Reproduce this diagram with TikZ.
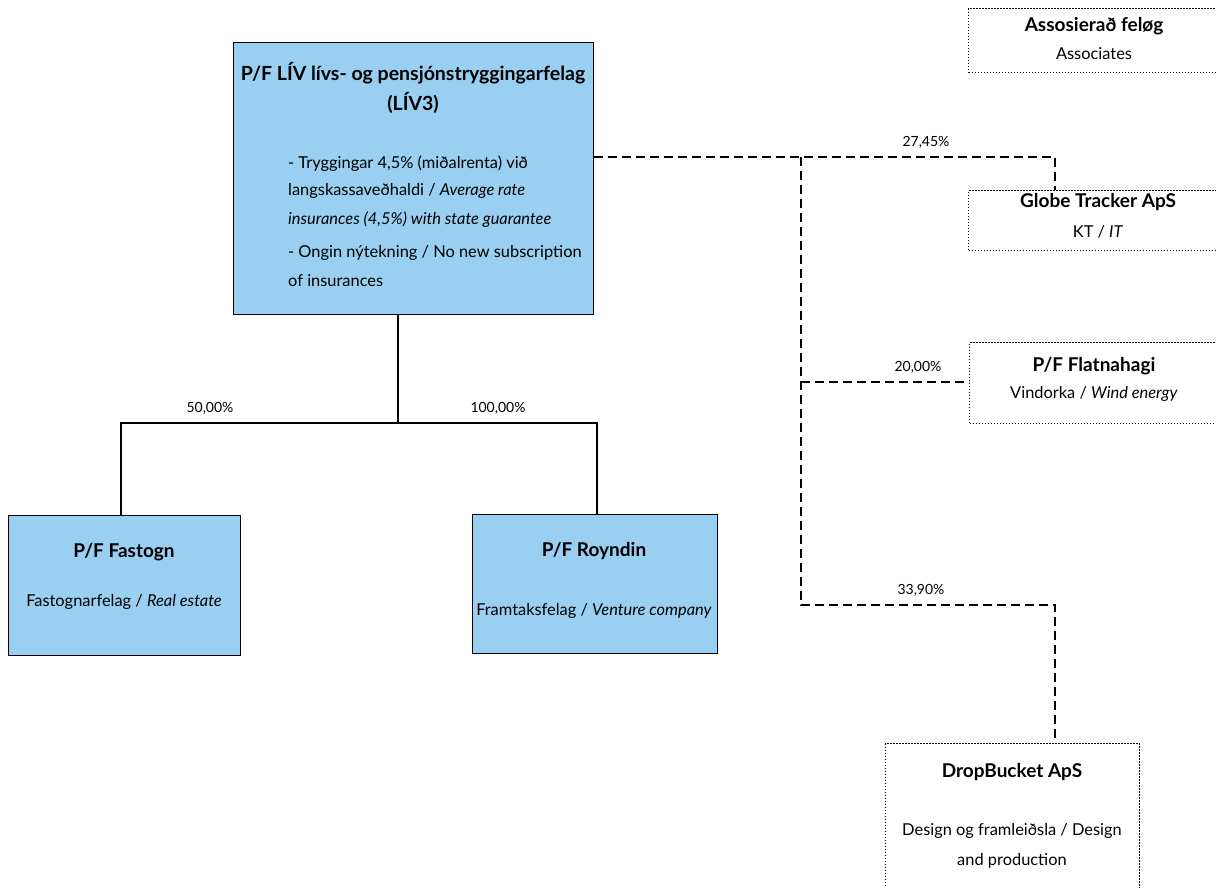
\documentclass[tikz,border=0pt]{standalone}
\usepackage{fontspec}
\setmainfont{Lato}
\definecolor{boxblue}{RGB}{153,207,240}
\begin{document}
\begin{tikzpicture}[x=1pt,y=-1pt,
  bluebox/.style={draw=black, line width=1.3pt, fill=boxblue, inner sep=0pt, anchor=north west},
  dotbox/.style={draw=black, line width=1.1pt, dash pattern=on 1.2pt off 1.8pt, inner sep=0pt, anchor=north west},
  own/.style={draw=black, line width=1.1pt},
  assoc/.style={draw=black, line width=2pt, dash pattern=on 9pt off 5pt},
  ttl/.style={font=\fontsize{19}{22}\selectfont\bfseries, inner sep=0pt},
  bigttl/.style={font=\fontsize{19.5}{23}\selectfont\bfseries, inner sep=0pt},
  txt/.style={font=\fontsize{16.4}{20}\selectfont, inner sep=0pt},
  pct/.style={font=\fontsize{14}{16}\selectfont, inner sep=0pt}]
\clip (0,0) rectangle (1216,888);
\fill[white] (0,0) rectangle (1216,888);

% boxes
\node[bluebox, minimum width=360pt, minimum height=272pt] (liv) at (233,42) {};
\node[bluebox, minimum width=232pt, minimum height=140pt] (fastogn) at (8,515) {};
\node[bluebox, minimum width=245pt, minimum height=139pt] (royndin) at (472,514) {};
\node[dotbox, minimum width=262pt, minimum height=64pt] (assoc) at (968,8) {};
\node[dotbox, minimum width=262pt, minimum height=60pt] (globe) at (968,190) {};
\node[dotbox, minimum width=262pt, minimum height=81pt] (flat) at (969,342) {};
\node[dotbox, minimum width=254pt, minimum height=170pt] (drop) at (885,743) {};

% main box text
\node[bigttl] (livt1) at (413,73) {P/F LÍV lívs- og pensjónstryggingarfelag};
\node[bigttl] (livt2) at (413,103) {(LÍV3)};
\node[txt, anchor=base west] (livb1) at (288,168) {- Tryggingar 4,5\% (miðalrenta) við};
\node[txt, anchor=base west] (livb2) at (288,196) {langskassaveðhaldi / \textit{Average rate}};
\node[txt, anchor=base west] (livb3) at (288,224) {\textit{insurances (4,5\%) with state guarantee}};
\node[txt, anchor=base west] (livb4) at (288,257) {- Ongin nýtekning / No new subscription};
\node[txt, anchor=base west] (livb5) at (288,286) {of insurances};

% subsidiaries
\node[ttl] (fastt) at (124,552) {P/F Fastogn};
\node[txt] (fastb) at (124,602) {Fastognarfelag / \textit{Real estate}};
\node[ttl] (royt) at (594,551) {P/F Royndin};
\node[txt] (royb) at (594,611) {Framtaksfelag / \textit{Venture company}};

% associates
\node[ttl] (asst) at (1094,26) {Assosierað feløg};
\node[txt] (assb) at (1094,54) {Associates};
\node[ttl] (globt) at (1098,202) {Globe Tracker ApS};
\node[txt] (globb) at (1098,232) {KT / \textit{IT}};
\node[ttl] (flatt) at (1094,366) {P/F Flatnahagi};
\node[txt] (flatb) at (1094,394) {Vindorka / \textit{Wind energy}};
\node[ttl] (dropt) at (1012,772) {DropBucket ApS};
\node[txt] (dropb1) at (1012,831) {Design og framleiðsla / Design};
\node[txt] (dropb2) at (1012,861) {and production};

% ownership connectors
\coordinate (j) at (398,423);
\coordinate (fl) at (121,423);
\coordinate (rr) at (597,423);
\draw[own] (liv.south -| j) -- (j);
\draw[own] (fastogn.north -| fl) -- (fl) -- (rr) -- (royndin.north -| rr);
\node[pct] (p50) at (210,408) {50,00\%};
\node[pct] (p100) at (498,408) {100,00\%};

% associate connectors
\coordinate (a1) at (801,157);
\coordinate (a2) at (1055,157);
\coordinate (a3) at (801,382);
\coordinate (a4) at (801,605);
\coordinate (a5) at (1055,605);
\draw[assoc] (liv.east |- a1) -- (a2) -- (globe.north -| a2);
\draw[assoc] (a1) -- (a4) -- (a5) -- (drop.north -| a5);
\draw[assoc] (a3) -- (flat.west |- a3);
\node[pct] (p27) at (926,142) {27,45\%};
\node[pct] (p20) at (918,367) {20,00\%};
\node[pct] (p33) at (921,590) {33,90\%};
\end{tikzpicture}
\end{document}
